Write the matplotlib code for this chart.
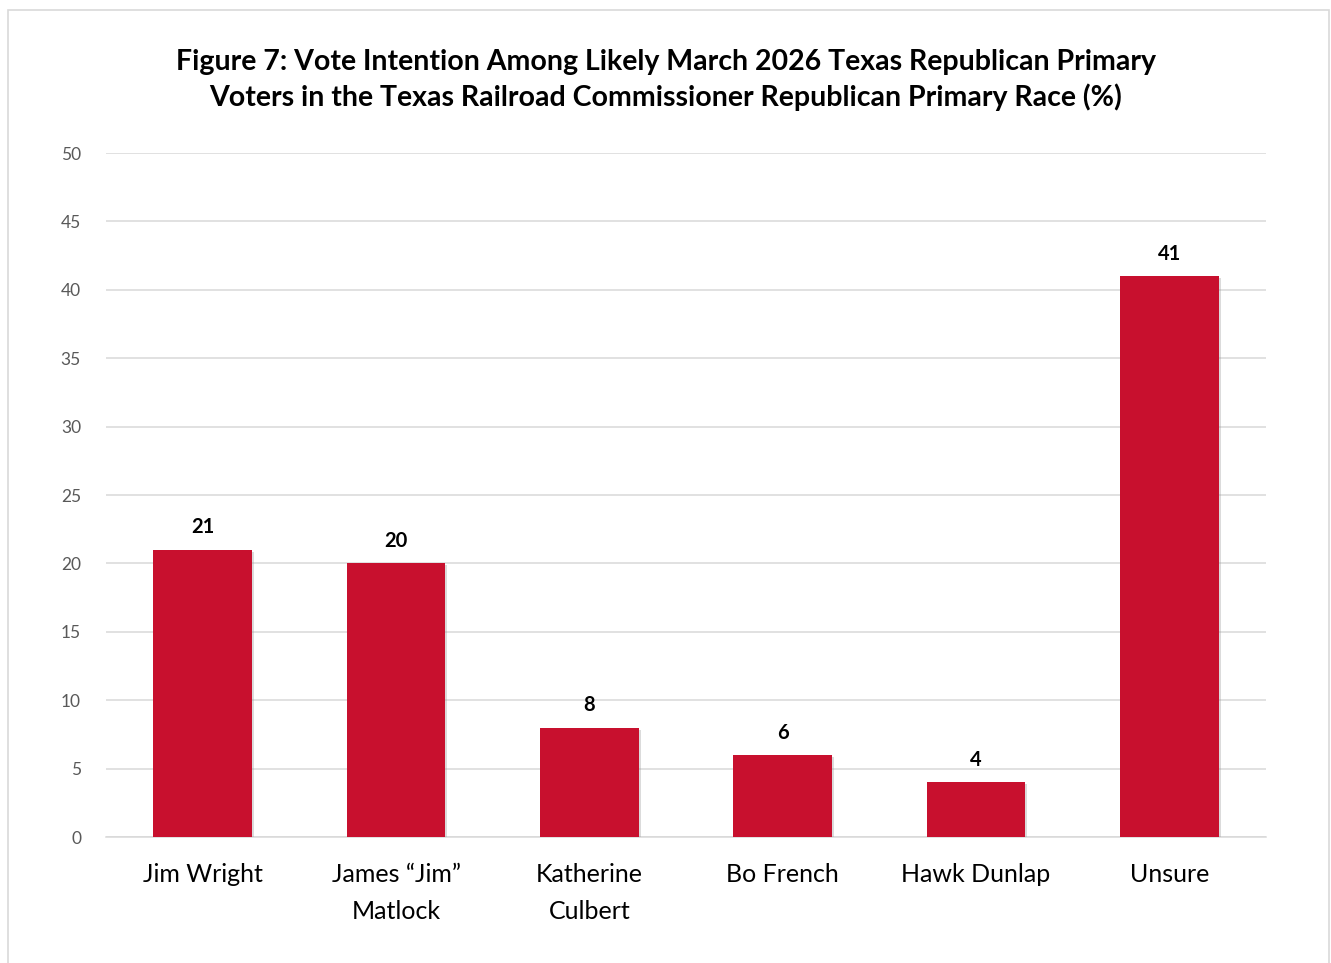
import matplotlib.pyplot as plt
import matplotlib.patheffects as pe
from matplotlib.patches import Rectangle

# Data
candidates = ['Jim Wright', 'James \u201cJim\u201d\nMatlock', 'Katherine\nCulbert',
              'Bo French', 'Hawk Dunlap', 'Unsure']
values = [21, 20, 8, 6, 4, 41]
yticks = [0, 5, 10, 15, 20, 25, 30, 35, 40, 45, 50]

title = ('Figure 7: Vote Intention Among Likely March 2026 Texas Republican Primary\n'
         'Voters in the Texas Railroad Commissioner Republican Primary Race (%)')

plt.rcParams['font.family'] = ['Lato', 'DejaVu Sans']

fig = plt.figure(figsize=(13.31, 9.63), dpi=100)
fig.patches.append(Rectangle((8 / 1331, -0.05), 1321 / 1331, 1.05 - 10 / 963,
                             transform=fig.transFigure, fill=False,
                             edgecolor='#d9d9d9', linewidth=1.2))

ax = fig.add_axes([106 / 1331, 126 / 963, 1160 / 1331, 684 / 963])
x = range(len(candidates))
bars = ax.bar(x, values, width=0.51, color='#c8102e', zorder=3)
for b in bars:
    b.set_path_effects([pe.SimplePatchShadow(offset=(1.5, -1.5), shadow_rgbFace='#999999', alpha=0.35),
                        pe.Normal()])

for xi, v in zip(x, values):
    ax.text(xi, v + 0.9, str(v), ha='center', va='bottom', fontsize=14.5,
            fontweight='bold', color='black')

ax.set_xlim(-0.5, len(candidates) - 0.5)
ax.set_ylim(0, 50)
ax.set_yticks(yticks)
ax.set_xticks(list(x))
ax.set_xticklabels(candidates, fontsize=18, color='black', linespacing=1.7)
ax.tick_params(axis='y', length=0, pad=18, labelsize=12.5, labelcolor='#595959')
ax.tick_params(axis='x', length=0, pad=19)
ax.grid(axis='y', color='#d9d9d9', linewidth=1.1, zorder=0)
for s in ['top', 'right', 'left']:
    ax.spines[s].set_visible(False)
ax.spines['bottom'].set_color('#d9d9d9')
ax.spines['bottom'].set_linewidth(1.1)

fig.text(0.5, 1 - 80 / 963, title, ha='center', va='center', fontsize=20.5,
         fontweight='bold', linespacing=1.4)

fig.savefig('out.png', dpi=100)
